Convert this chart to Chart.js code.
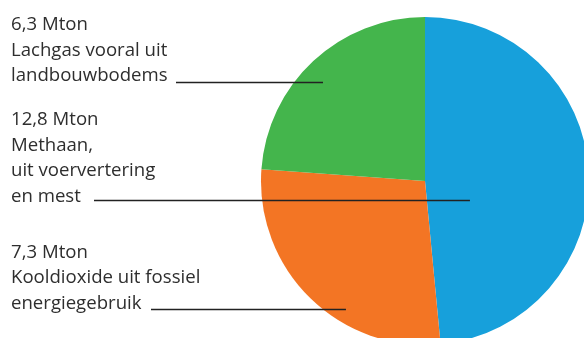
<!DOCTYPE html>
<html>
<head>
<meta charset="utf-8">
<script src="https://cdn.jsdelivr.net/npm/chart.js@4"></script>
<style>
html,body{margin:0;padding:0;background:#fff;overflow:hidden;width:584px;height:338px;}
#wrap{position:absolute;left:0;top:0;width:600px;height:350px;}
</style>
</head>
<body>
<div id="wrap"><canvas id="c" width="600" height="350"></canvas></div>
<script>
// Data (Mton CO2-equivalent)
const categories = ['Methaan', 'Kooldioxide', 'Lachgas'];
const values = [12.8, 7.3, 6.3];
const colors = ['#17a0db', '#f37524', '#44b54c'];
const labelLines = [
  ['12,8 Mton', 'Methaan,', 'uit voervertering', 'en mest'],
  ['7,3 Mton', 'Kooldioxide uit fossiel', 'energiegebruik'],
  ['6,3 Mton', 'Lachgas vooral uit', 'landbouwbodems']
];

// Layout for the annotations (text block position + leader line)
const annot = [
  {x: 11, y0: 125, startX: 94,  lineY: 0.116, endFrac: 0.274},
  {x: 11, y0: 257.5, startX: 151, lineY: 0.78, endFrac: -0.482},
  {x: 11, y0: 30, startX: 176, lineY: -0.604, endFrac: -0.622}
];
const lineGap = 25.5;

const labelPlugin = {
  id: 'labels',
  afterDatasetsDraw(chart) {
    const ctx = chart.ctx;
    const meta = chart.getDatasetMeta(0);
    ctx.save();
    ctx.font = '400 18.6px "Open Sans"';
    ctx.fillStyle = '#2e2e2e';
    ctx.textBaseline = 'alphabetic';
    meta.data.forEach((arc, i) => {
      const a = annot[i];
      labelLines[i].forEach((t, k) => ctx.fillText(t, a.x, a.y0 + k * lineGap));
      const R = arc.outerRadius;
      const ly = Math.round(arc.y + a.lineY * R) + 0.5;
      ctx.beginPath();
      ctx.strokeStyle = '#222222';
      ctx.lineWidth = 1.3;
      ctx.moveTo(a.startX, ly);
      ctx.lineTo(arc.x + a.endFrac * R, ly);
      ctx.stroke();
    });
    ctx.restore();
  }
};

new Chart(document.getElementById('c'), {
  type: 'pie',
  data: {
    labels: categories,
    datasets: [{data: values, backgroundColor: colors, borderWidth: 0}]
  },
  options: {
    responsive: false,
    animation: false,
    layout: {padding: {left: 261, top: 17, right: 11, bottom: 5}},
    plugins: {legend: {display: false}, tooltip: {enabled: false}}
  },
  plugins: [labelPlugin]
});
</script>
</body>
</html>
